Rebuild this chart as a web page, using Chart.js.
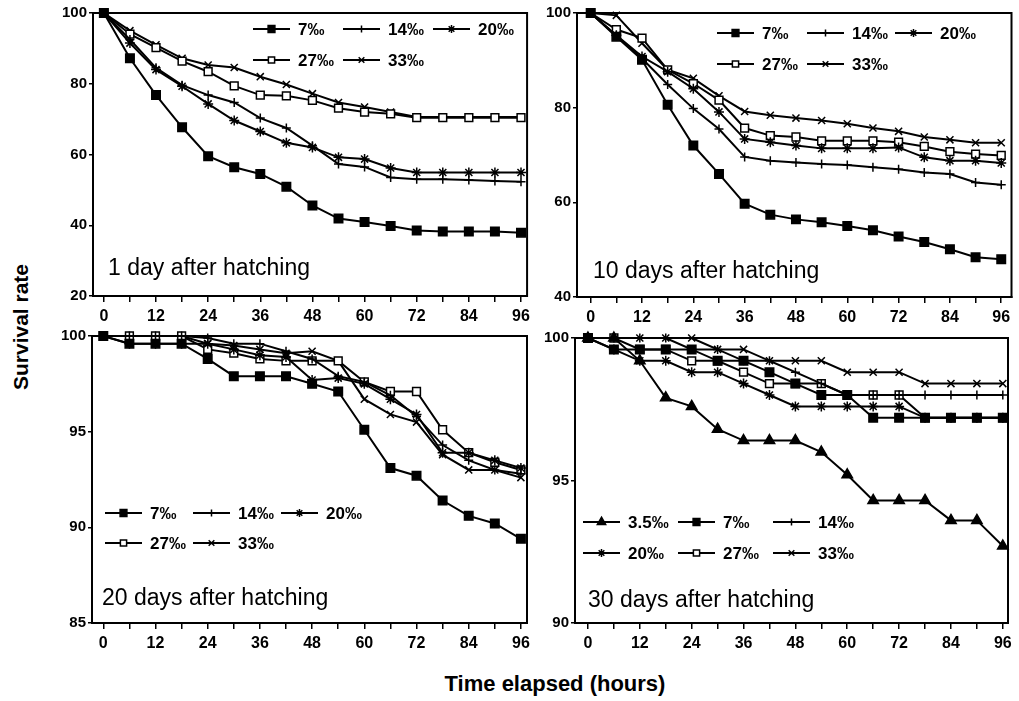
<!DOCTYPE html>
<html>
<head>
<meta charset="utf-8">
<script src="https://cdn.jsdelivr.net/npm/chart.js@4.4.1/dist/chart.umd.min.js"></script>
<style>
  html, body { margin: 0; padding: 0; background: #fff; }
  body { width: 1019px; height: 701px; position: relative; overflow: hidden; font-family: "Liberation Sans", Arial, sans-serif; }
  canvas { position: absolute; }
  #ytitle { position: absolute; left: 21px; top: 327px; transform: translate(-50%, -50%) rotate(-90deg); font-weight: bold; font-size: 21px; white-space: nowrap; }
  #xtitle { position: absolute; left: 555px; top: 684px; transform: translate(-50%, -50%); font-weight: bold; font-size: 22px; white-space: nowrap; }
</style>
</head>
<body>
<canvas id="p1" width="495" height="330" style="left:40px;top:0px"></canvas>
<canvas id="p2" width="489" height="330" style="left:530px;top:0px"></canvas>
<canvas id="p3" width="495" height="345" style="left:40px;top:320px"></canvas>
<canvas id="p4" width="489" height="345" style="left:530px;top:320px"></canvas>
<div id="ytitle">Survival rate</div>
<div id="xtitle">Time elapsed (hours)</div>
<script>
// time points (hours)
const hours = [0, 6, 12, 18, 24, 30, 36, 42, 48, 54, 60, 66, 72, 78, 84, 90, 96];

// 1 day after hatching
const day1_7 = [100, 87.2, 76.8, 67.7, 59.5, 56.4, 54.5, 50.9, 45.6, 41.9, 40.9, 39.8, 38.5, 38.2, 38.2, 38.2, 37.9];
const day1_14 = [100, 92.5, 84.5, 79.6, 76.8, 74.7, 70.3, 67.5, 62.5, 57.3, 56.5, 53.5, 53.0, 53.0, 52.8, 52.5, 52.3];
const day1_20 = [100, 91.5, 84.0, 79.3, 74.3, 69.6, 66.5, 63.3, 62.0, 59.2, 58.7, 56.2, 54.9, 54.9, 54.9, 54.9, 54.9];
const day1_27 = [100, 94.0, 90.2, 86.4, 83.4, 79.4, 76.8, 76.6, 75.3, 73.1, 72.0, 71.5, 70.4, 70.4, 70.4, 70.4, 70.4];
const day1_33 = [100, 95.0, 91.0, 87.2, 85.3, 84.6, 82.0, 79.8, 77.2, 74.7, 73.4, 72.0, 70.6, 70.6, 70.6, 70.6, 70.6];

// 10 days after hatching
const day10_7 = [100, 95.0, 90.1, 80.6, 72.0, 66.0, 59.7, 57.4, 56.4, 55.8, 55.0, 54.1, 52.8, 51.6, 50.1, 48.4, 48.0];
const day10_14 = [100, 95.2, 90.4, 84.9, 79.8, 75.5, 69.6, 68.8, 68.4, 68.1, 67.9, 67.4, 67.0, 66.3, 66.0, 64.2, 63.7];
const day10_20 = [100, 95.3, 90.8, 87.6, 84.0, 79.1, 73.4, 72.7, 72.0, 71.4, 71.4, 71.4, 71.6, 69.5, 68.8, 68.8, 68.3];
const day10_27 = [100, 96.5, 94.7, 88.0, 85.1, 81.6, 75.7, 74.1, 73.8, 73.0, 73.0, 73.0, 72.7, 71.8, 70.7, 70.2, 69.9];
const day10_33 = [100, 99.5, 93.6, 88.0, 86.2, 82.5, 79.2, 78.4, 77.8, 77.3, 76.6, 75.7, 75.0, 73.8, 73.2, 72.6, 72.6];

// 20 days after hatching
const day20_7 = [100, 99.6, 99.6, 99.6, 98.8, 97.9, 97.9, 97.9, 97.5, 97.1, 95.1, 93.1, 92.7, 91.4, 90.6, 90.2, 89.4];
const day20_14 = [100, 100, 100, 100, 99.9, 99.6, 99.6, 99.2, 98.8, 97.9, 97.6, 96.9, 95.8, 94.3, 93.5, 93.0, 92.8];
const day20_20 = [100, 99.6, 99.6, 99.6, 99.6, 99.3, 99.0, 98.9, 97.7, 97.8, 97.5, 96.7, 95.9, 93.9, 93.9, 93.5, 93.1];
const day20_27 = [100, 100, 100, 100, 99.3, 99.1, 98.8, 98.7, 98.7, 98.7, 97.6, 97.1, 97.1, 95.1, 93.9, 93.4, 93.0];
const day20_33 = [100, 100, 100, 100, 99.6, 99.5, 99.3, 99.1, 99.2, 98.7, 96.7, 95.9, 95.5, 93.8, 93.0, 93.0, 92.6];

// 30 days after hatching
const day30_3_5 = [100, 100, 99.2, 97.9, 97.6, 96.8, 96.4, 96.4, 96.4, 96.0, 95.2, 94.3, 94.3, 94.3, 93.6, 93.6, 92.7];
const day30_7 = [100, 99.6, 99.6, 99.6, 99.6, 99.2, 99.2, 98.8, 98.4, 98.0, 98.0, 97.2, 97.2, 97.2, 97.2, 97.2, 97.2];
const day30_14 = [100, 100, 100, 100, 99.6, 99.6, 99.2, 99.2, 98.8, 98.4, 98.0, 98.0, 98.0, 98.0, 98.0, 98.0, 98.0];
const day30_20 = [100, 99.6, 99.2, 99.2, 98.8, 98.8, 98.4, 98.0, 97.6, 97.6, 97.6, 97.6, 97.6, 97.2, 97.2, 97.2, 97.2];
const day30_27 = [100, 100, 99.6, 99.6, 99.2, 99.2, 98.8, 98.4, 98.4, 98.4, 98.0, 98.0, 98.0, 97.2, 97.2, 97.2, 97.2];
const day30_33 = [100, 100, 100, 100, 100, 99.6, 99.6, 99.2, 99.2, 99.2, 98.8, 98.8, 98.8, 98.4, 98.4, 98.4, 98.4];

// y tick labels per panel
const yTicks1 = [20, 40, 60, 80, 100];
const yTicks10 = [40, 60, 80, 100];
const yTicks20 = [85, 90, 95, 100];
const yTicks30 = [90, 95, 100];

const FONT = '"Liberation Sans", Arial, Helvetica, sans-serif';

// marker for each salinity
const markers = {
  '3.5‰': { style: 'triangle', fill: '#000', r: 6 },
  '7‰': { style: 'rect', fill: '#000', r: 6 },
  '14‰': { style: 'cross', fill: '#000', r: 4.5 },
  '20‰': { style: 'star', fill: '#000', r: 5 },
  '27‰': { style: 'rect', fill: '#fff', r: 5.5 },
  '33‰': { style: 'crossRot', fill: '#000', r: 5 }
};

function series(label, values) {
  const m = markers[label];
  return {
    label: label,
    data: values.map((v, i) => ({ x: hours[i], y: v })),
    borderColor: '#000',
    borderWidth: 2,
    pointStyle: m.style,
    pointRadius: m.r,
    pointBackgroundColor: m.fill,
    pointBorderColor: '#000',
    pointBorderWidth: 1.5,
    tension: 0,
    clip: false
  };
}

// box, title and legend drawn on top of the chart
const panelDeco = {
  id: 'panelDeco',
  afterDatasetsDraw(chart, args, o) {
    const ctx = chart.ctx, a = chart.chartArea;
    ctx.save();
    ctx.strokeStyle = '#000';
    ctx.lineWidth = 2;
    ctx.strokeRect(a.left, a.top, a.right - a.left, a.bottom - a.top);

    ctx.fillStyle = '#000';
    ctx.font = '23px ' + FONT;
    ctx.textAlign = 'left';
    ctx.textBaseline = 'alphabetic';
    ctx.fillText(o.title, o.titleX - o.offX, o.titleY - o.offY);

    o.legend.forEach(item => {
      const ds = chart.data.datasets[item.index];
      const x = item.x - o.offX, y = item.y - o.offY;
      ctx.strokeStyle = '#000';
      ctx.lineWidth = 2;
      ctx.beginPath();
      ctx.moveTo(x, y);
      ctx.lineTo(x + 37, y);
      ctx.stroke();
      ctx.fillStyle = ds.pointBackgroundColor;
      ctx.lineWidth = 1.5;
      Chart.helpers.drawPoint(ctx, { pointStyle: ds.pointStyle, radius: ds.pointRadius * 0.8, rotation: 0, borderWidth: 1.5 }, x + 18.5, y);
      ctx.fillStyle = '#000';
      ctx.font = 'bold 17px ' + FONT;
      ctx.textBaseline = 'middle';
      ctx.fillText(ds.label, x + 45, y + 1);
    });
    ctx.restore();
  }
};

function makePanel(p) {
  new Chart(document.getElementById(p.id), {
    type: 'line',
    data: { datasets: p.datasets },
    options: {
      responsive: false,
      animation: false,
      events: [],
      layout: { padding: { top: p.padTop, right: p.padRight, left: 0, bottom: 0 } },
      plugins: {
        legend: { display: false },
        tooltip: { enabled: false },
        panelDeco: {
          title: p.title, titleX: p.titleX, titleY: p.titleY,
          offX: p.offX, offY: p.offY, legend: p.legend
        }
      },
      scales: {
        x: {
          type: 'linear',
          min: p.xMin,
          max: p.xMax,
          afterBuildTicks: s => { s.ticks = hours.map(v => ({ value: v })); },
          afterFit: s => { s.height = p.xHeight; },
          ticks: {
            autoSkip: false, maxRotation: 0, padding: 5, color: '#000',
            font: { family: FONT, size: 16, weight: 'bold' },
            callback: v => (v % 12 === 0 ? String(v) : '')
          },
          grid: { drawOnChartArea: false, drawTicks: true, tickLength: 6, color: '#000', lineWidth: 1.5 },
          border: { display: true, color: '#000', width: 2 }
        },
        y: {
          type: 'linear',
          min: p.yTicks[0],
          max: p.yTicks[p.yTicks.length - 1],
          afterBuildTicks: s => { s.ticks = p.yTicks.map(v => ({ value: v })); },
          afterFit: s => { s.width = p.yWidth; },
          ticks: {
            padding: 2, color: '#000',
            font: { family: FONT, size: 15, weight: 'bold' }
          },
          grid: { drawOnChartArea: false, drawTicks: true, tickLength: 4, color: '#000', lineWidth: 1.5 },
          border: { display: true, color: '#000', width: 2 }
        }
      }
    },
    plugins: [panelDeco]
  });
}

makePanel({
  id: 'p1', offX: 40, offY: 0,
  padTop: 13, padRight: 7, yWidth: 53, xHeight: 34,
  xMin: -2.5, xMax: 97.4, yTicks: yTicks1,
  title: '1 day after hatching', titleX: 108, titleY: 275,
  datasets: [series('7‰', day1_7), series('14‰', day1_14), series('20‰', day1_20), series('27‰', day1_27), series('33‰', day1_33)],
  legend: [
    { index: 0, x: 253, y: 29 }, { index: 1, x: 343, y: 29 }, { index: 2, x: 433, y: 29 },
    { index: 3, x: 253, y: 60 }, { index: 4, x: 343, y: 60 }
  ]
});

makePanel({
  id: 'p2', offX: 530, offY: 0,
  padTop: 13, padRight: 7, yWidth: 47, xHeight: 33,
  xMin: -3.2, xMax: 98.4, yTicks: yTicks10,
  title: '10 days after hatching', titleX: 593, titleY: 278,
  datasets: [series('7‰', day10_7), series('14‰', day10_14), series('20‰', day10_20), series('27‰', day10_27), series('33‰', day10_33)],
  legend: [
    { index: 0, x: 717, y: 33 }, { index: 1, x: 807, y: 33 }, { index: 2, x: 895, y: 33 },
    { index: 3, x: 717, y: 64 }, { index: 4, x: 807, y: 64 }
  ]
});

makePanel({
  id: 'p3', offX: 40, offY: 320,
  padTop: 16, padRight: 8, yWidth: 52, xHeight: 42,
  xMin: -2.6, xMax: 97.4, yTicks: yTicks20,
  title: '20 days after hatching', titleX: 102, titleY: 605,
  datasets: [series('7‰', day20_7), series('14‰', day20_14), series('20‰', day20_20), series('27‰', day20_27), series('33‰', day20_33)],
  legend: [
    { index: 0, x: 105, y: 513 }, { index: 1, x: 193, y: 513 }, { index: 2, x: 281, y: 513 },
    { index: 3, x: 105, y: 543 }, { index: 4, x: 193, y: 543 }
  ]
});

makePanel({
  id: 'p4', offX: 530, offY: 320,
  padTop: 18, padRight: 11, yWidth: 45, xHeight: 42,
  xMin: -3.0, xMax: 97.2, yTicks: yTicks30,
  title: '30 days after hatching', titleX: 588, titleY: 607,
  datasets: [series('3.5‰', day30_3_5), series('7‰', day30_7), series('14‰', day30_14), series('20‰', day30_20), series('27‰', day30_27), series('33‰', day30_33)],
  legend: [
    { index: 0, x: 583, y: 522 }, { index: 1, x: 678, y: 522 }, { index: 2, x: 773, y: 522 },
    { index: 3, x: 583, y: 553 }, { index: 4, x: 678, y: 553 }, { index: 5, x: 773, y: 553 }
  ]
});
</script>
</body>
</html>
